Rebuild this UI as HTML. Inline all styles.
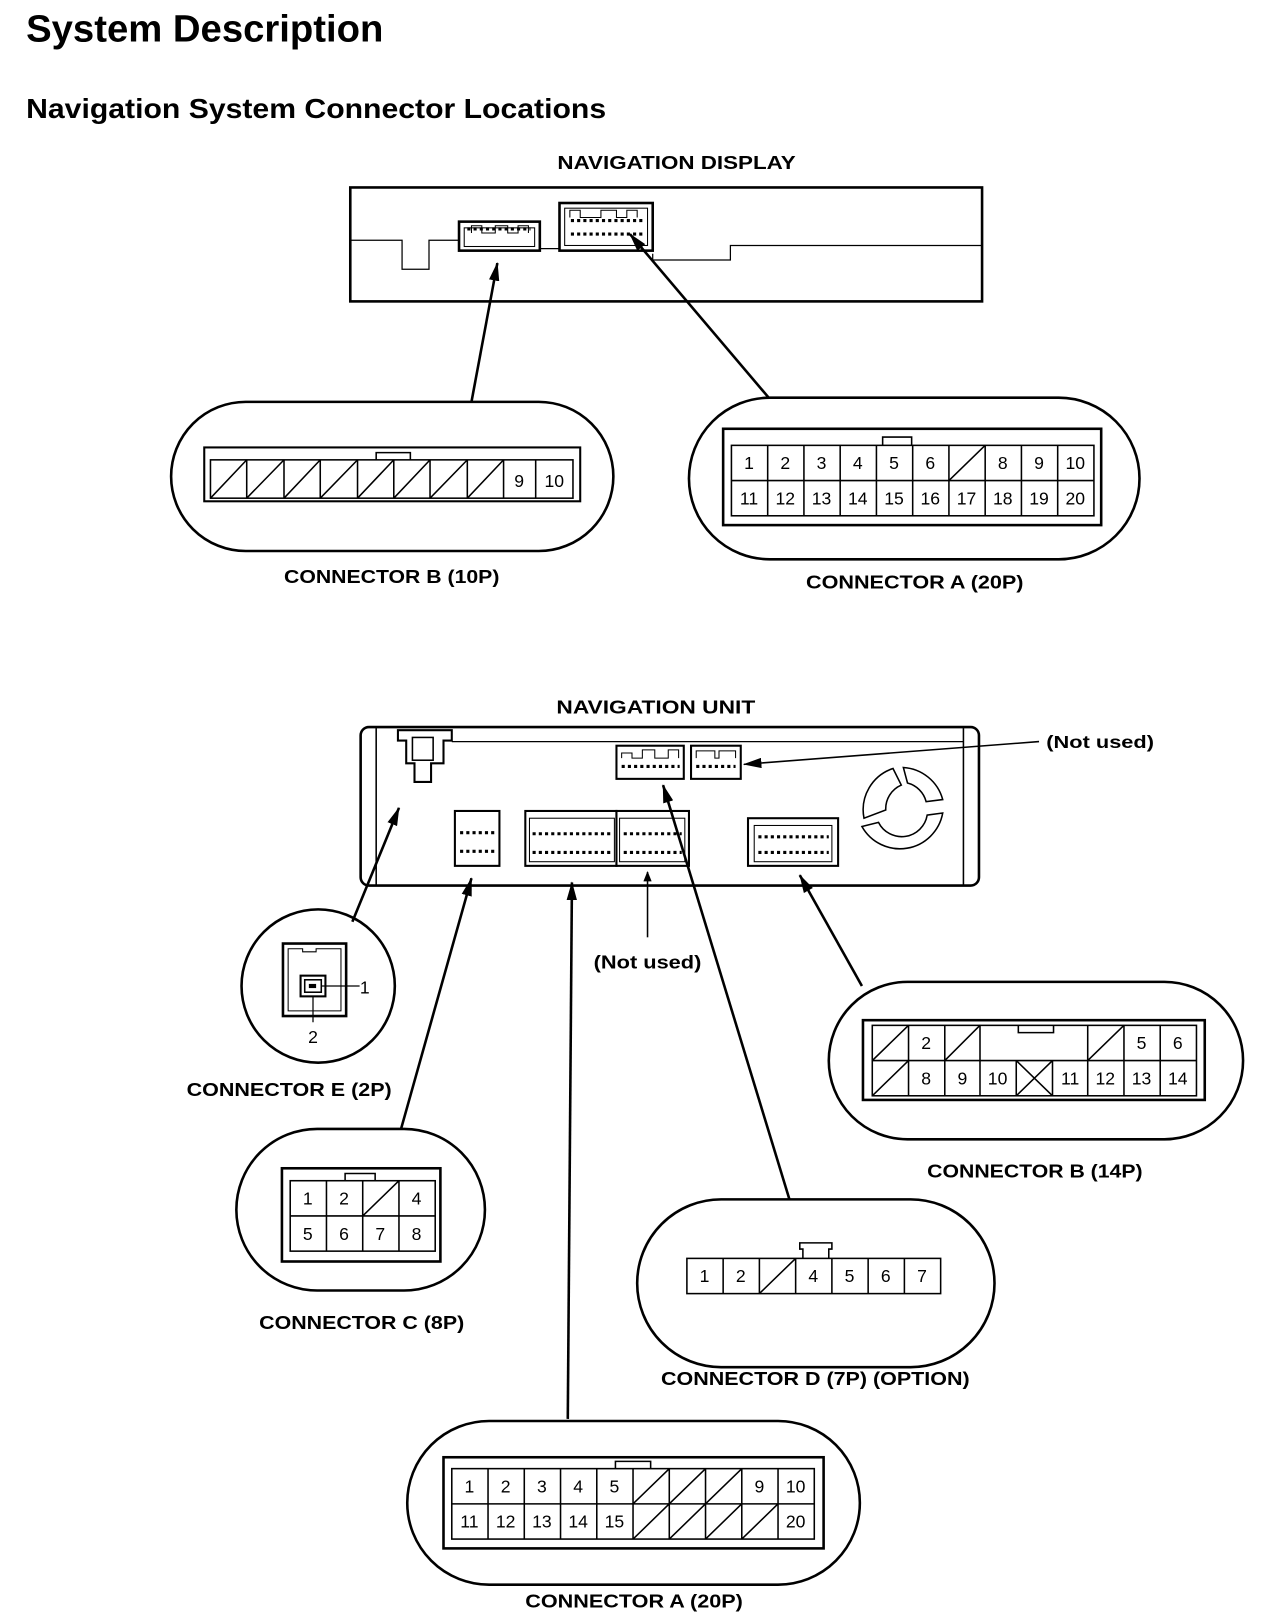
<!DOCTYPE html>
<html><head><meta charset="utf-8"><style>
html,body{margin:0;padding:0;background:#fff}
svg{display:block}
text{font-family:"Liberation Sans",sans-serif;fill:#000}
.b{font-weight:bold}
.n{font-size:17px;text-anchor:middle}
.l{font-size:18px;font-weight:bold;text-anchor:middle}
</style></head><body>
<svg width="1264" height="1624" viewBox="0 0 1220 1568" xmlns="http://www.w3.org/2000/svg">
<defs><marker id="ar" markerWidth="10" markerHeight="8" refX="9" refY="4" orient="auto" markerUnits="userSpaceOnUse"><path d="M0,0 L10,4 L0,8 Z" fill="#000"/></marker>
<marker id="ar2" markerWidth="18" markerHeight="10" refX="17" refY="5" orient="auto" markerUnits="userSpaceOnUse"><path d="M0,0 L18,5 L0,10 Z" fill="#000"/></marker></defs>
<text x="25" y="40" class="b" font-size="37" textLength="345" lengthAdjust="spacingAndGlyphs">System Description</text>
<text x="25" y="114" class="b" font-size="27" textLength="560" lengthAdjust="spacingAndGlyphs">Navigation System Connector Locations</text>

<!-- Navigation display -->
<text x="653" y="163" class="l" textLength="230" lengthAdjust="spacingAndGlyphs">NAVIGATION DISPLAY</text>
<g fill="none" stroke="#000">
<rect x="338" y="181" width="610" height="110" stroke-width="2.5"/>
<path d="M338,232 H388 V260 H414 V232 H443" stroke-width="1.2"/>
<path d="M521,240 H540 M630,245 V251 H705 V237 H948" stroke-width="1.2"/>
<rect x="443" y="214" width="78" height="28" stroke-width="2.5"/>
<rect x="448" y="220" width="68" height="18" stroke-width="1"/>
<path d="M455,225 V218 H465 V225 H478 V218 H490 V225 H500 V218 H510 V225" stroke-width="1"/>
<rect x="540" y="196" width="90" height="46" stroke-width="2.5"/>
<rect x="545" y="201" width="80" height="36" stroke-width="1"/>
<path d="M550,210 V203 H560 V210 H580 V203 H595 V210 H605 V203 H615 V210" stroke-width="1"/>
</g>
<path d="M451,221 H512 M551,213 H620 M551,226 H620" stroke="#000" stroke-width="3" stroke-dasharray="3,3"/>
<line x1="455" y1="388" x2="480" y2="254" stroke="#000" stroke-width="2.5" marker-end="url(#ar2)"/>
<line x1="742" y1="384" x2="608" y2="226" stroke="#000" stroke-width="2.5" marker-end="url(#ar2)"/>

<!-- Connector B 10P -->
<rect x="165" y="388" width="427" height="144" rx="72" fill="none" stroke="#000" stroke-width="2.5"/>
<g fill="none" stroke="#000" stroke-width="2">
<rect x="197" y="432" width="363" height="52"/>
<rect x="203" y="444" width="350" height="37" stroke-width="1.5"/>
<path d="M363,444 V437 H396 V444" stroke-width="1.5"/>
<path d="M238,444V481 M274,444V481 M309,444V481 M345,444V481 M380,444V481 M415,444V481 M451,444V481 M486,444V481 M517,444V481" stroke-width="1.5"/>
<path d="M203,481 L238,444 M238,481 L274,444 M274,481 L309,444 M309,481 L345,444 M345,481 L380,444 M380,481 L415,444 M415,481 L451,444 M451,481 L486,444" stroke-width="1.5"/>
</g>
<text x="501" y="470" class="n">9</text><text x="535" y="470" class="n">10</text>
<text x="378" y="563" class="l" textLength="208" lengthAdjust="spacingAndGlyphs">CONNECTOR B (10P)</text>

<!-- Connector A 20P top -->
<rect x="665" y="384" width="435" height="156" rx="78" fill="none" stroke="#000" stroke-width="2.5"/>
<g fill="none" stroke="#000" stroke-width="1.5">
<rect x="698" y="414" width="365" height="93" stroke-width="2.5"/>
<rect x="706" y="430" width="350" height="68"/>
<path d="M852,430 V422 H880 V430"/>
<path d="M706,464 H1056 M741,430V498 M776,430V498 M811,430V498 M846,430V498 M881,430V498 M916,430V498 M951,430V498 M986,430V498 M1021,430V498"/>
<path d="M916,464 L951,430"/>
</g>
<g class="n">
<text x="723" y="453" class="n">1</text><text x="758" y="453" class="n">2</text><text x="793" y="453" class="n">3</text><text x="828" y="453" class="n">4</text><text x="863" y="453" class="n">5</text><text x="898" y="453" class="n">6</text><text x="968" y="453" class="n">8</text><text x="1003" y="453" class="n">9</text><text x="1038" y="453" class="n">10</text>
<text x="723" y="487" class="n">11</text><text x="758" y="487" class="n">12</text><text x="793" y="487" class="n">13</text><text x="828" y="487" class="n">14</text><text x="863" y="487" class="n">15</text><text x="898" y="487" class="n">16</text><text x="933" y="487" class="n">17</text><text x="968" y="487" class="n">18</text><text x="1003" y="487" class="n">19</text><text x="1038" y="487" class="n">20</text>
</g>
<text x="883" y="568" class="l" textLength="210" lengthAdjust="spacingAndGlyphs">CONNECTOR A (20P)</text>

<!-- Navigation unit -->
<text x="633" y="689" class="l" textLength="192" lengthAdjust="spacingAndGlyphs">NAVIGATION UNIT</text>
<g fill="none" stroke="#000">
<rect x="348" y="702" width="597" height="153" rx="8" stroke-width="2.5"/>
<path d="M363,703 V854 M930,703 V854" stroke-width="1.5"/>
<path d="M436,716 H930" stroke-width="1.2"/>
<path d="M384,705 H436 V715 H428 V737 H416 V755 H400 V737 H392 V715 H384 Z" stroke-width="2"/>
<rect x="398" y="712" width="20" height="22" stroke-width="1.5"/>
<rect x="595" y="720" width="65" height="32" stroke-width="2"/>
<path d="M600,732 V727 H610 V732 H620 V724 H632 V732 H645 V724 H655 V732" stroke-width="1"/>
<rect x="667" y="720" width="48" height="32" stroke-width="2"/>
<path d="M672,732 V725 H690 V732 H694 V725 H710 V732" stroke-width="1"/>
<rect x="439" y="783" width="43" height="53" stroke-width="2"/>
<rect x="507" y="783" width="88" height="53" stroke-width="2"/>
<rect x="595" y="783" width="70" height="53" stroke-width="2"/>
<rect x="511" y="790" width="82" height="42" stroke-width="1"/>
<rect x="598" y="790" width="63" height="42" stroke-width="1"/>
<rect x="722" y="790" width="87" height="46" stroke-width="2"/>
<rect x="728" y="797" width="75" height="35" stroke-width="1"/>
<path d="M834,790 A42,42 0 0 1 862,742 L870,758 A25,25 0 0 0 855,782 Z" stroke-width="1.5"/>
<path d="M872,741 A42,42 0 0 1 910,772 L894,774 A25,25 0 0 0 876,756 Z" stroke-width="1.5"/>
<path d="M910,785 A42,42 0 0 1 832,798 L848,794 A25,25 0 0 0 895,787 Z" stroke-width="1.5"/>
</g>
<path d="M600,740 H656 M672,740 H710 M444,804 H478 M444,822 H478 M514,805 H590 M514,823 H590 M602,805 H658 M602,823 H658 M732,808 H800 M732,823 H800" stroke="#000" stroke-width="3" stroke-dasharray="3,3"/>
<line x1="1003" y1="716" x2="718" y2="738" stroke="#000" stroke-width="1.5" marker-end="url(#ar2)"/>
<text x="1010" y="722" class="b" font-size="17" textLength="104" lengthAdjust="spacingAndGlyphs">(Not used)</text>
<line x1="340" y1="890" x2="385" y2="780" stroke="#000" stroke-width="2.5" marker-end="url(#ar2)"/>
<line x1="387" y1="1090" x2="455" y2="848" stroke="#000" stroke-width="2.5" marker-end="url(#ar2)"/>
<line x1="548" y1="1370" x2="552" y2="852" stroke="#000" stroke-width="2.5" marker-end="url(#ar2)"/>
<line x1="625" y1="905" x2="625" y2="842" stroke="#000" stroke-width="1.5" marker-end="url(#ar)"/>
<text x="625" y="935" class="l" font-size="17" textLength="104" lengthAdjust="spacingAndGlyphs">(Not used)</text>
<line x1="762" y1="1158" x2="640" y2="758" stroke="#000" stroke-width="2.5" marker-end="url(#ar2)"/>
<line x1="832" y1="952" x2="772" y2="845" stroke="#000" stroke-width="2.5" marker-end="url(#ar2)"/>

<!-- Connector E -->
<circle cx="307" cy="952" r="74" fill="none" stroke="#000" stroke-width="2.5"/>
<g fill="none" stroke="#000">
<rect x="273" y="911" width="61" height="70" stroke-width="2.5"/>
<path d="M278,916 H292 V919 H305 V916 H329 V976 H278 Z" stroke-width="1"/>
<rect x="290" y="942" width="24" height="20" stroke-width="2"/>
<rect x="294" y="946" width="16" height="12" stroke-width="1.5"/>
<path d="M310,952 H347 M302,962 V987" stroke-width="1.2"/>
</g>
<rect x="298" y="950" width="7" height="4" fill="#000"/>
<text x="352" y="959" class="n">1</text><text x="302" y="1007" class="n">2</text>
<text x="279" y="1058" class="l" textLength="198" lengthAdjust="spacingAndGlyphs">CONNECTOR E (2P)</text>

<!-- Connector C -->
<rect x="228" y="1090" width="240" height="156" rx="78" fill="none" stroke="#000" stroke-width="2.5"/>
<g fill="none" stroke="#000" stroke-width="1.5">
<rect x="272" y="1128" width="153" height="90" stroke-width="2.5"/>
<rect x="280" y="1140" width="140" height="68"/>
<path d="M333,1140 V1133 H362 V1140"/>
<path d="M280,1174 H420 M315,1140V1208 M350,1140V1208 M385,1140V1208 M350,1174 L385,1140"/>
</g>
<text x="297" y="1163" class="n">1</text><text x="332" y="1163" class="n">2</text><text x="402" y="1163" class="n">4</text>
<text x="297" y="1197" class="n">5</text><text x="332" y="1197" class="n">6</text><text x="367" y="1197" class="n">7</text><text x="402" y="1197" class="n">8</text>
<text x="349" y="1283" class="l" textLength="198" lengthAdjust="spacingAndGlyphs">CONNECTOR C (8P)</text>

<!-- Connector B 14P -->
<rect x="800" y="948" width="400" height="152" rx="76" fill="none" stroke="#000" stroke-width="2.5"/>
<g fill="none" stroke="#000" stroke-width="1.5">
<rect x="833" y="985" width="330" height="77" stroke-width="2.5"/>
<rect x="842" y="990" width="313" height="68"/>
<path d="M983,990 V997 H1017 V990"/>
<path d="M842,1024 H1155 M877,990V1058 M912,990V1058 M946,990V1058 M981,1024V1058 M1016,1024V1058 M1050,990V1058 M1085,990V1058 M1120,990V1058"/>
<path d="M842,1024 L877,990 M912,1024 L946,990 M1050,1024 L1085,990 M842,1058 L877,1024 M981,1024 L1016,1058 M981,1058 L1016,1024"/>
</g>
<text x="894" y="1013" class="n">2</text><text x="1102" y="1013" class="n">5</text><text x="1137" y="1013" class="n">6</text>
<text x="894" y="1047" class="n">8</text><text x="929" y="1047" class="n">9</text><text x="963" y="1047" class="n">10</text><text x="1033" y="1047" class="n">11</text><text x="1067" y="1047" class="n">12</text><text x="1102" y="1047" class="n">13</text><text x="1137" y="1047" class="n">14</text>
<text x="999" y="1137" class="l" textLength="208" lengthAdjust="spacingAndGlyphs">CONNECTOR B (14P)</text>

<!-- Connector D -->
<rect x="615" y="1158" width="345" height="162" rx="81" fill="none" stroke="#000" stroke-width="2.5"/>
<g fill="none" stroke="#000" stroke-width="1.5">
<rect x="663" y="1215" width="245" height="34"/>
<path d="M775,1215 V1206 H772 V1200 H803 V1206 H800 V1215"/>
<path d="M698,1215V1249 M733,1215V1249 M768,1215V1249 M803,1215V1249 M838,1215V1249 M873,1215V1249 M733,1249 L768,1215"/>
</g>
<text x="680" y="1238" class="n">1</text><text x="715" y="1238" class="n">2</text><text x="785" y="1238" class="n">4</text><text x="820" y="1238" class="n">5</text><text x="855" y="1238" class="n">6</text><text x="890" y="1238" class="n">7</text>
<text x="787" y="1337" class="l" textLength="298" lengthAdjust="spacingAndGlyphs">CONNECTOR D (7P) (OPTION)</text>

<!-- Connector A bottom -->
<rect x="393" y="1372" width="437" height="158" rx="79" fill="none" stroke="#000" stroke-width="2.5"/>
<g fill="none" stroke="#000" stroke-width="1.5">
<rect x="428" y="1407" width="367" height="88" stroke-width="2.5"/>
<rect x="436" y="1418" width="350" height="68"/>
<path d="M594,1418 V1411 H628 V1418"/>
<path d="M436,1452 H786 M471,1418V1486 M506,1418V1486 M541,1418V1486 M576,1418V1486 M611,1418V1486 M646,1418V1486 M681,1418V1486 M716,1418V1486 M751,1418V1486"/>
<path d="M611,1452 L646,1418 M646,1452 L681,1418 M681,1452 L716,1418 M611,1486 L646,1452 M646,1486 L681,1452 M681,1486 L716,1452 M716,1486 L751,1452"/>
</g>
<text x="453" y="1441" class="n">1</text><text x="488" y="1441" class="n">2</text><text x="523" y="1441" class="n">3</text><text x="558" y="1441" class="n">4</text><text x="593" y="1441" class="n">5</text><text x="733" y="1441" class="n">9</text><text x="768" y="1441" class="n">10</text>
<text x="453" y="1475" class="n">11</text><text x="488" y="1475" class="n">12</text><text x="523" y="1475" class="n">13</text><text x="558" y="1475" class="n">14</text><text x="593" y="1475" class="n">15</text><text x="768" y="1475" class="n">20</text>
<text x="612" y="1552" class="l" textLength="210" lengthAdjust="spacingAndGlyphs">CONNECTOR A (20P)</text>
</svg>
</body></html>
